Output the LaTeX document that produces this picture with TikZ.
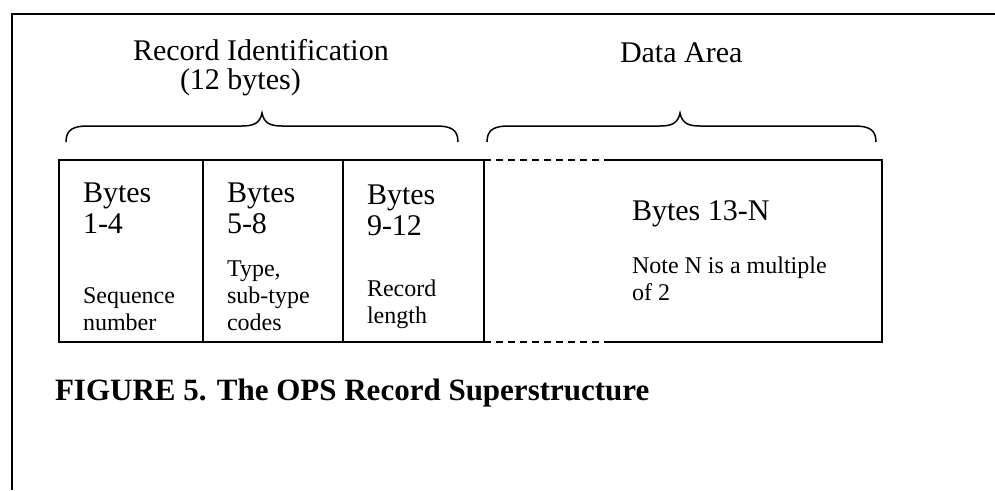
\documentclass[tikz,border=0pt]{standalone}
\usepackage{fontspec}
\setmainfont{Liberation Serif}
\usetikzlibrary{positioning}

\begin{document}
\begin{tikzpicture}[x=1pt,y=-1pt]
	\tikzstyle{every node}=[inner sep=0pt, outer sep=0pt]
	\tikzstyle{big}=[font=\fontsize{30}{31}\selectfont, align=left, anchor=base west]
	\tikzstyle{small}=[font=\fontsize{24}{27}\selectfont, align=left, anchor=base west]
	\tikzstyle{cell}=[draw, line width=1.5pt, anchor=north west, minimum height=182pt]
	\useasboundingbox (0,0) rectangle (995,490);
	% frame
	\draw[line width=1.5pt] (995,14) -- (12,14) -- (12,490);
	% headings (base = last line)
	\node[big] (ridhead) at (133,89) {Record Identification\\[-2pt]\hspace*{47pt}(12 bytes)};
	\node[big] (dahead) at (620,62) {Data Area};
	% braces
	\foreach \a/\m/\b in {66/262/458, 487/680/876}
		\draw[line width=1.5pt] (\a,142) .. controls (\a,129) and (\a+8,126) .. (\a+22,126) -- (\m-20,126)
			.. controls (\m-8,126) and (\m-2,123) .. (\m,113) .. controls (\m+2,123) and (\m+8,126) .. (\m+20,126)
			-- (\b-22,126) .. controls (\b-8,126) and (\b,129) .. (\b,142);
	% record cells
	\node[cell, minimum width=144pt] (c1) at (59,160) {};
	\node[cell, minimum width=140pt] (c2) at (c1.north east) {};
	\node[cell, minimum width=141pt] (c3) at (c2.north east) {};
	\node[cell, draw=none, minimum width=398pt] (data) at (c3.north east) {};
	\coordinate (dt) at ([xshift=120pt]data.north west);
	\coordinate (db) at ([xshift=120pt]data.south west);
	\draw[line width=1.5pt, dash pattern=on 7pt off 5pt] (data.north west) -- (dt);
	\draw[line width=1.5pt, dash pattern=on 7pt off 5pt] (data.south west) -- (db);
	\draw[line width=1.5pt] (dt) -- (data.north east) -- (data.south east) -- (db);
	% cell texts
	\node[big] (b1) at (83,233) {Bytes\\1-4};
	\node[big] (b2) at (227,233) {Bytes\\5-8};
	\node[big] (b3) at (367,235) {Bytes\\9-12};
	\node[small] (n1) at (83,330) {Sequence\\number};
	\node[small] (n2) at (227,330) {Type,\\sub-type\\codes};
	\node[small] (n3) at (367,323) {Record\\length};
	\node[big] (b4) at (632,220) {Bytes 13-N};
	\node[small] (n4) at (632,300) {Note N is a multiple\\of 2};
	% caption
	\node[font=\fontsize{31}{33}\selectfont\bfseries, anchor=base west] (cap) at (55,400) {FIGURE 5. The OPS Record Superstructure};
\end{tikzpicture}
\end{document}
